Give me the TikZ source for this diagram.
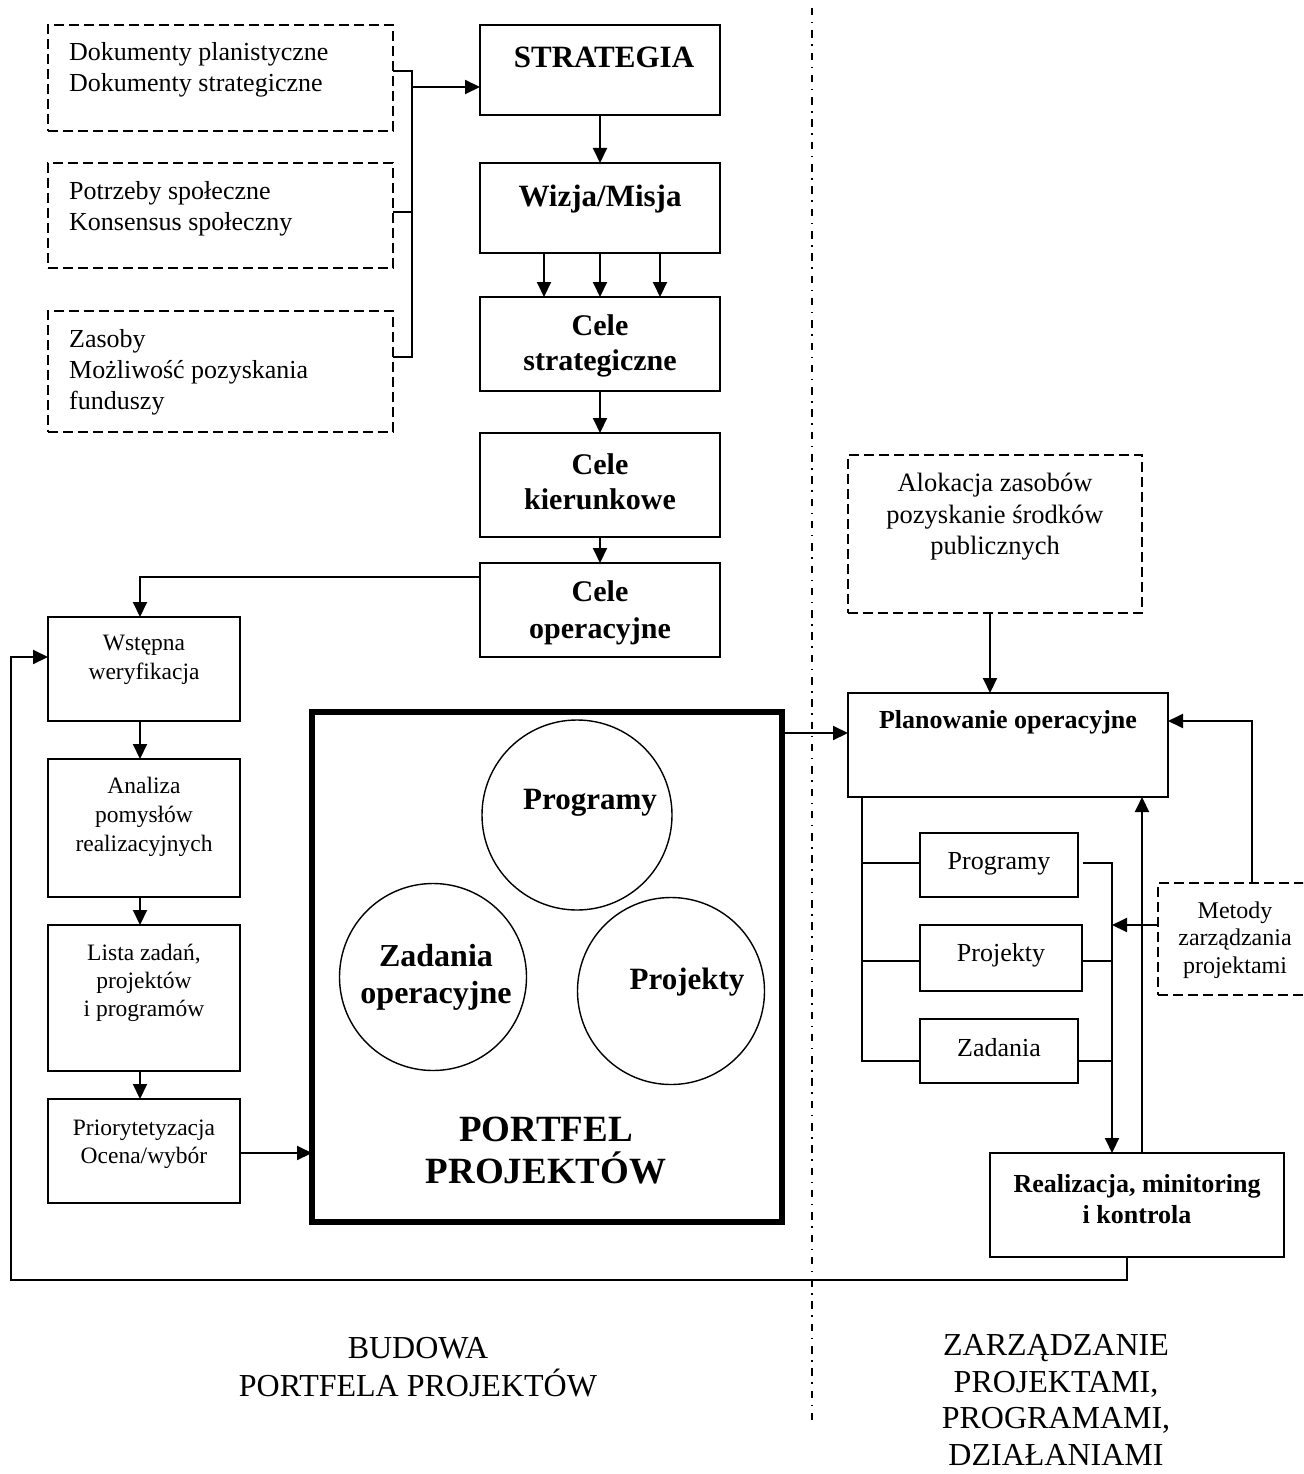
\documentclass[tikz,border=0pt]{standalone}
\usepackage{fontspec}
\setmainfont{Liberation Serif}
\usetikzlibrary{arrows.meta}
\newcommand\fsz[2]{\fontsize{#1}{#2}\selectfont}
\begin{document}
\begin{tikzpicture}[x=1pt,y=-1pt,
  box/.style={draw, line width=2pt, inner sep=0pt, outer sep=0pt},
  dbox/.style={box, dash pattern=on 10pt off 5pt},
  thick box/.style={draw, line width=6pt, inner sep=0pt, outer sep=0pt},
  circ/.style={draw, circle, line width=1.4pt, inner sep=0pt},
  txt/.style={inner sep=0pt, align=center},
  ln/.style={line width=2pt},
  arr/.style={line width=2pt, -{Triangle[length=15pt,width=14pt]}},
  divider/.style={line width=2pt, dash pattern=on 7.5pt off 6.5pt on 1.5pt off 6.8pt}]
\useasboundingbox (0,0) rectangle (1303,1474);
\clip (0,0) rectangle (1303,1474);

% left dashed inputs
\node[dbox, minimum width=345, minimum height=106] (d1) at (220.5,78) {};
\node[dbox, minimum width=345, minimum height=105] (d2) at (220.5,215.5) {};
\node[dbox, minimum width=345, minimum height=121] (d3) at (220.5,371.5) {};
\node[txt, anchor=west, align=left, font=\fsz{26}{31}] (d1t) at (69,70) {Dokumenty planistyczne\\Dokumenty strategiczne};
\node[txt, anchor=west, align=left, font=\fsz{26}{31}] (d2t) at (69,209) {Potrzeby społeczne\\Konsensus społeczny};
\node[txt, anchor=west, align=left, font=\fsz{26}{31}] (d3t) at (69,372) {Zasoby\\Możliwość pozyskania\\funduszy};

% main column
\node[box, minimum width=240, minimum height=90] (strat) at (600,70) {};
\node[box, minimum width=240, minimum height=90] (wiz) at (600,208) {};
\node[box, minimum width=240, minimum height=94] (cstr) at (600,344) {};
\node[box, minimum width=240, minimum height=104] (ckier) at (600,485) {};
\node[box, minimum width=240, minimum height=94] (cop) at (600,610) {};
\node[txt, font=\fsz{31}{36}\bfseries] (stratt) at (604,57) {STRATEGIA};
\node[txt, font=\fsz{31}{36}\bfseries] (wizt) at (600,199) {Wizja/Misja};
\node[txt, font=\fsz{30}{35}\bfseries] (cstrt) at (600,346) {Cele\\strategiczne};
\node[txt, font=\fsz{30}{35}\bfseries] (ckiert) at (600,482) {Cele\\kierunkowe};
\node[txt, font=\fsz{30}{37}\bfseries] (copt) at (600,613) {Cele\\operacyjne};

% left process column
\node[box, minimum width=192, minimum height=104] (wst) at (144,669) {};
\node[box, minimum width=192, minimum height=138] (ana) at (144,828) {};
\node[box, minimum width=192, minimum height=146] (lis) at (144,998) {};
\node[box, minimum width=192, minimum height=104] (pri) at (144,1151) {};
\node[txt, font=\fsz{23.5}{29}] (wstt) at (144,660) {Wstępna\\weryfikacja};
\node[txt, font=\fsz{23.5}{29}] (anat) at (144,817) {Analiza\\pomysłów\\realizacyjnych};
\node[txt, font=\fsz{23.5}{28}] (list) at (144,983) {Lista zadań,\\projektów\\i programów};
\node[txt, font=\fsz{23.5}{28}] (prit) at (144,1144) {Priorytetyzacja\\Ocena/wybór};

% portfolio
\node[thick box, minimum width=470, minimum height=510] (port) at (547,967) {};
\node[circ, minimum size=190] (cprog) at (577,815) {};
\node[circ, minimum size=187] (czad) at (433,977) {};
\node[circ, minimum size=187] (cproj) at (671,991) {};
\node[txt, font=\fsz{31}{36}\bfseries] (cprogt) at (590,803) {Programy};
\node[txt, font=\fsz{32}{37}\bfseries] (czadt) at (436,977) {Zadania\\operacyjne};
\node[txt, font=\fsz{31}{36}\bfseries] (cprojt) at (687,982) {Projekty};
\node[txt, font=\fsz{37}{42}\bfseries] (portt) at (546,1151) {PORTFEL\\PROJEKTÓW};

% right side
\node[dbox, minimum width=294, minimum height=158] (alok) at (995,534) {};
\node[txt, font=\fsz{26.5}{31.5}] (alokt) at (995,517) {Alokacja zasobów\\pozyskanie środków\\publicznych};
\node[box, minimum width=320, minimum height=104] (plan) at (1008,745) {};
\node[txt, font=\fsz{26}{31}\bfseries] (plant) at (1008,722) {Planowanie operacyjne};
\node[box, minimum width=158, minimum height=64] (sprog) at (999,865) {};
\node[box, minimum width=162, minimum height=66] (sproj) at (1001,958) {};
\node[box, minimum width=158, minimum height=64] (szad) at (999,1051) {};
\node[txt, font=\fsz{26}{31}] (sprogt) at (999,864) {Programy};
\node[txt, font=\fsz{26}{31}] (sprojt) at (1001,955) {Projekty};
\node[txt, font=\fsz{26}{31}] (szadt) at (999,1048) {Zadania};
\node[dbox, minimum width=152, minimum height=112] (met) at (1234,939) {};
\node[txt, font=\fsz{24}{27.5}] (mett) at (1235,940) {Metody\\zarządzania\\projektami};
\node[box, minimum width=294, minimum height=104] (real) at (1137,1205) {};
\node[txt, font=\fsz{26}{31}\bfseries] (realt) at (1137,1199) {Realizacja, minitoring\\i kontrola};

% bottom captions
\node[txt, font=\fsz{32}{38}] (capl) at (418,1367) {BUDOWA\\PORTFELA PROJEKTÓW};
\node[txt, font=\fsz{32}{36.5}] (capr) at (1056,1400) {ZARZĄDZANIE\\PROJEKTAMI,\\PROGRAMAMI,\\DZIAŁANIAMI};

% divider
\coordinate (v1) at (812,8);
\coordinate (v2) at (812,1423);
\draw[divider] (v1) -- (v2);

% bracket of inputs
\coordinate (bt) at (412,71);
\coordinate (bm) at (412,212);
\coordinate (bb) at (412,357);
\coordinate (ba) at (412,87);
\draw[ln] (d1.east |- bt) -- (bt) -- (bb) -- (d3.east |- bb);
\draw[ln] (d2.east |- bm) -- (bm);
\draw[arr] (ba) -- (strat.west |- ba);

% main column arrows
\draw[arr] (strat) -- (wiz);
\draw[arr] ([xshift=-56pt]wiz.south) -- ([xshift=-56pt]cstr.north);
\draw[arr] (wiz) -- (cstr);
\draw[arr] ([xshift=60pt]wiz.south) -- ([xshift=60pt]cstr.north);
\draw[arr] (cstr) -- (ckier);
\draw[arr] (ckier) -- (cop);

% to left column
\coordinate (c1) at (140,577);
\draw[arr] (cop.west |- c1) -- (c1) -- (wst.north -| c1);
\draw[arr] ([xshift=-4pt]wst.south) -- ([xshift=-4pt]ana.north);
\draw[arr] ([xshift=-4pt]ana.south) -- ([xshift=-4pt]lis.north);
\draw[arr] ([xshift=-4pt]lis.south) -- ([xshift=-4pt]pri.north);
\coordinate (p1) at (0,1153);
\draw[arr] (pri.east |- p1) -- (port.west |- p1);
\coordinate (p2) at (0,733);
\draw[arr] (port.east |- p2) -- (plan.west |- p2);

% right side connectors
\coordinate (a1) at (990,0);
\draw[arr] (alok.south -| a1) -- (plan.north -| a1);
\coordinate (bl1) at (862,863);
\coordinate (bl2) at (862,961);
\coordinate (bl3) at (862,1061);
\draw[ln] (plan.south -| bl3) -- (bl3) -- (szad.west |- bl3);
\draw[ln] (bl1) -- (sprog.west |- bl1);
\draw[ln] (bl2) -- (sproj.west |- bl2);
\coordinate (sg) at (1083,863);
\coordinate (br1) at (1112,863);
\coordinate (br2) at (1112,961);
\coordinate (br3) at (1112,1061);
\draw[arr] (sg) -- (br1) -- (real.north -| br1);
\draw[ln] (sproj.east |- br2) -- (br2);
\draw[ln] (szad.east |- br3) -- (br3);
\coordinate (m1) at (1112,925);
\draw[arr] (met.west |- m1) -- (m1);
\coordinate (m2) at (1252,721);
\draw[arr] (met.north -| m2) -- (m2) -- (plan.east |- m2);
\coordinate (r1) at (1142,0);
\draw[arr] (real.north -| r1) -- (plan.south -| r1);

% feedback loop
\coordinate (f1) at (1127,1280);
\coordinate (f2) at (11,1280);
\coordinate (f3) at (11,657);
\draw[arr] (real.south -| f1) -- (f1) -- (f2) -- (f3) -- (wst.west |- f3);
\end{tikzpicture}
\end{document}
